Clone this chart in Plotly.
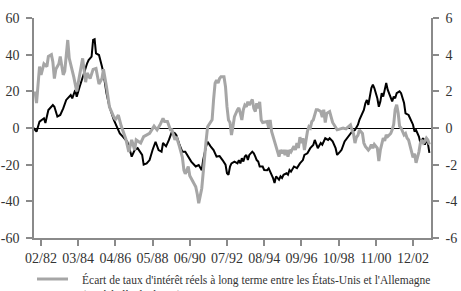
import plotly.graph_objects as go

# Black series (left scale)
black_dates = ["1981-09","1981-11","1982-01","1982-04","1982-05","1982-07","1982-10","1982-11","1983-01","1983-03",
"1983-05","1983-07","1983-10","1983-11","1984-01","1984-02","1984-04","1984-06","1984-09","1984-10",
"1984-12","1985-01","1985-02","1985-03","1985-05","1985-07","1985-08","1985-10","1985-12","1986-03",
"1986-05","1986-07","1986-09","1986-12","1987-02","1987-03","1987-05","1987-07","1987-10","1987-11",
"1988-01","1988-03","1988-05","1988-07","1988-09","1988-11","1988-12","1989-02","1989-04","1989-06",
"1989-08","1989-09","1989-11","1990-01","1990-03","1990-05","1990-07","1990-10","1990-12","1991-02",
"1991-03","1991-05","1991-06","1991-08","1991-10","1991-12","1992-02","1992-04","1992-06","1992-07",
"1992-08","1992-09","1992-10","1992-12","1993-02","1993-03","1993-04","1993-05","1993-06","1993-07",
"1993-08","1993-09","1993-10","1993-12","1994-01","1994-02","1994-03","1994-04","1994-05","1994-07",
"1994-08","1994-10","1994-11","1994-12","1995-01","1995-02","1995-03","1995-04","1995-06","1995-07",
"1995-08","1995-09","1995-11","1995-12","1996-01","1996-02","1996-04","1996-06","1996-08","1996-10",
"1996-11","1997-01","1997-03","1997-05","1997-06","1997-08","1997-10","1997-11","1998-01","1998-03",
"1998-04","1998-06","1998-08","1998-09","1998-11","1998-12","1999-02","1999-05","1999-07","1999-09",
"1999-10","1999-11","1999-12","2000-03","2000-04","2000-05","2000-06","2000-07","2000-08","2000-09",
"2000-10","2000-12","2001-01","2001-02","2001-03","2001-04","2001-05","2001-06","2001-07","2001-09",
"2001-10","2001-11","2001-12","2002-01","2002-03","2002-04","2002-06","2002-07","2002-09","2002-10",
"2002-11","2002-12","2003-01","2003-02","2003-04","2003-05","2003-06","2003-07","2003-08","2003-09",
"2003-10","2003-11"]
black_values = [0,-2,3.5,5.3,2.7,9.8,12.5,11.6,6.2,7.1,
10.7,15.3,18,16.2,20.7,17,22.5,28,35.3,37,
38.9,48,48.4,40.7,39.8,33.5,29.8,19,11.6,4.4,
0.7,-2.9,-4.7,-7.5,-13,-15.6,-12,-11,-14.7,-20,
-19.3,-17.5,-12,-7.5,-12,-12.9,-8.2,-10,-6.5,-2,
-2.9,-4,-9,-13,-13,-15.6,-18.3,-21,-20.2,-23,
-17.5,-10,-7.5,-10,-12,-15.6,-15.3,-17.5,-20,-24.7,
-25.5,-21,-19.3,-18.3,-19.3,-17.5,-19.3,-16.5,-18.3,-15.6,
-14.7,-17.5,-14.7,-12.9,-13.8,-15.6,-17.5,-18.3,-21,-21,
-22.9,-23,-22,-23.8,-25.5,-27.5,-30,-26.4,-28.2,-26.4,
-27.3,-25.5,-24.7,-25.5,-22.9,-23.8,-21,-21.9,-19.3,-17.5,
-14.7,-13.8,-11,-9.3,-6.5,-11,-8.2,-9.1,-5.6,-6.5,
-5.6,-7.3,-11,-14.7,-12.9,-11.9,-7.3,-3.8,-2,-1.1,
0,1.8,4.4,9.8,13.5,15.3,12.6,17.1,21.8,23.6,
21.8,16.2,11.6,14.4,19,17.1,21.8,24.5,20.9,17.1,
14.5,17.1,16.2,19,20,19,13.6,8,7.1,5.3,
3.5,1.8,-1.9,-1.1,-4.7,-8.2,-6.5,-5.6,-9.1,-6.5,
-8.2,-13.6]

# Grey series (right scale, %)
grey_dates = ["1981-10","1981-11","1982-01","1982-02","1982-04","1982-06","1982-07","1982-09","1982-10","1982-11",
"1982-12","1983-02","1983-03","1983-05","1983-06","1983-08","1983-09","1983-11","1983-12","1984-02",
"1984-04","1984-06","1984-08","1984-09","1984-11","1985-01","1985-03","1985-05","1985-07","1985-08",
"1985-10","1985-12","1986-03","1986-04","1986-06","1986-08","1986-11","1987-01","1987-03","1987-05",
"1987-06","1987-09","1987-11","1988-01","1988-03","1988-06","1988-08","1988-10","1988-12","1989-01",
"1989-03","1989-05","1989-06","1989-08","1989-09","1989-11","1990-01","1990-02","1990-03","1990-05",
"1990-06","1990-08","1990-10","1990-11","1990-12","1991-02","1991-03","1991-04","1991-05","1991-06",
"1991-08","1991-09","1991-10","1991-11","1991-12","1992-01","1992-02","1992-03","1992-05","1992-06",
"1992-07","1992-08","1992-09","1992-10","1992-11","1992-12","1993-02","1993-03","1993-04","1993-05",
"1993-06","1993-07","1993-08","1993-09","1993-10","1993-12","1994-01","1994-02","1994-03","1994-04",
"1994-05","1994-06","1994-07","1994-10","1994-11","1994-12","1995-01","1995-02","1995-03","1995-04",
"1995-06","1995-07","1995-08","1995-09","1995-10","1995-11","1995-12","1996-01","1996-02","1996-04",
"1996-05","1996-06","1996-07","1996-08","1996-09","1996-10","1996-11","1997-01","1997-02","1997-03",
"1997-04","1997-05","1997-06","1997-07","1997-08","1997-10","1997-11","1997-12","1998-01","1998-02",
"1998-04","1998-05","1998-06","1998-09","1998-11","1999-01","1999-03","1999-06","1999-07","1999-08",
"1999-09","1999-10","1999-11","1999-12","2000-02","2000-03","2000-04","2000-05","2000-06","2000-07",
"2000-08","2000-09","2000-10","2000-12","2001-01","2001-02","2001-03","2001-04","2001-05","2001-06",
"2001-07","2001-09","2001-10","2001-11","2001-12","2002-01","2002-02","2002-03","2002-04","2002-06",
"2002-07","2002-08","2002-09","2002-10","2002-11","2002-12","2003-01","2003-02","2003-04","2003-05",
"2003-06","2003-07","2003-08","2003-09","2003-10","2003-11"]
grey_values = [2.0,1.36,3.35,2.9,3.5,3.35,3.9,4.0,3.6,2.7,
3.2,3.5,3.9,2.9,3.1,4.8,3.8,3.2,2.8,2.0,
3.0,3.8,2.5,3.0,2.7,3.2,3.25,2.4,2.7,3.2,
2.25,1.16,0.6,0.44,0.7,0.09,-0.6,-1.3,-0.65,-1.2,
-0.65,-0.82,-0.47,-0.38,-0.29,0.1,-0.1,0.17,0.53,0.35,
0.35,-0.1,-0.1,-0.65,-0.47,-1.0,-1.6,-2.3,-2.5,-2.1,
-2.6,-2.9,-3.2,-3.6,-4.1,-3.3,-2.5,-1.2,-0.7,0.07,
0.35,0.45,1.55,2.45,2.6,2.45,2.7,2.8,2.8,2.25,
1.16,0.44,0.3,-0.38,0.09,0.62,1.0,1.1,0.8,0.44,
1.0,1.25,1.16,1.43,1.25,1.56,1.07,0.9,1.35,1.07,
1.43,0.44,0.3,0.35,0.0,0.44,-0.2,-0.47,-0.82,-1.1,
-1.56,-1.2,-1.38,-1.2,-1.47,-1.2,-1.56,-1.2,-1.3,-1.0,
-1.2,-0.82,-1.1,-0.5,-0.82,-0.55,-1.2,-0.2,0.07,0.0,
0.35,0.44,0.8,1.0,1.0,0.9,0.6,1.0,0.3,0.8,
0.9,0.6,0.3,-0.1,-0.05,0.0,-0.05,0.17,-0.1,-0.3,
-0.82,-0.5,-0.4,-0.1,-0.3,-0.82,-1.0,-1.1,-1.2,-1.1,
-0.9,-1.1,-0.9,-1.1,-1.8,-1.2,-0.82,-0.55,-0.7,-0.38,
-0.47,-0.3,-0.1,0.2,1.0,1.27,0.8,0.1,0.0,-0.38,
-0.3,-0.55,-0.65,-1.0,-1.2,-1.6,-1.4,-1.9,-1.3,-0.82,
-0.65,-0.82,-0.73,-0.55,-0.65,-0.9]

x_tickvals = ["1982-02-01","1984-03-01","1986-04-01","1988-05-01","1990-06-01","1992-07-01",
              "1994-08-01","1996-09-01","1998-10-01","2000-11-01","2002-12-01"]
x_ticktext = ["02/82","03/84","04/86","05/88","06/90","07/92","08/94","09/96","10/98","11/00","12/02"]
y_left_ticks = [-60, -40, -20, 0, 20, 40, 60]
y_left_text = ["-60", "-40", "-20", "0", "20", "40", "60"]
y_right_ticks = [-6, -4, -2, 0, 2, 4, 6]
y_right_text = ["-6", "-4", "-2", "0", "2", "4", "6"]

legend_label = "Écart de taux d'intérêt réels à long terme entre les États-Unis et l'Allemagne<br>(%, échelle de droite)"

GREY = "#a6a6a6"
AXIS = "#8a8a8a"
TXT = "#333333"
FONT = "Liberation Serif"
TICKSIZE = 14

fig = go.Figure()
fig.add_trace(go.Scatter(x=black_dates, y=black_values, mode="lines",
                         line=dict(color="#000000", width=2), yaxis="y", showlegend=False))
fig.add_trace(go.Scatter(x=grey_dates, y=grey_values, mode="lines",
                         line=dict(color=GREY, width=3), yaxis="y2", showlegend=False))

fig.update_layout(
    width=461, height=291,
    margin=dict(l=34, r=30, t=18, b=53, autoexpand=False),
    paper_bgcolor="white", plot_bgcolor="white",
    font=dict(family=FONT, size=13, color=TXT),
    xaxis=dict(range=["1981-09-10", "2003-12-04"], tickvals=x_tickvals, ticktext=x_ticktext,
               tickangle=0, automargin=False,
               showgrid=False, zeroline=False, showline=True, linecolor=AXIS, linewidth=1.5,
               ticks="outside", ticklen=6, tickcolor=AXIS, tickwidth=1.5,
               tickfont=dict(family=FONT, size=TICKSIZE, color=TXT)),
    yaxis=dict(range=[-60, 60], tickvals=y_left_ticks, ticktext=y_left_text, automargin=False,
               showgrid=False, zeroline=True, zerolinecolor="#000000", zerolinewidth=1,
               showline=True, linecolor=AXIS, linewidth=1.5,
               ticks="outside", ticklen=6, tickcolor=AXIS, tickwidth=1.5,
               ticklabelstandoff=4,
               tickfont=dict(family=FONT, size=TICKSIZE, color=TXT)),
    yaxis2=dict(range=[-6, 6], tickvals=y_right_ticks, ticktext=y_right_text, automargin=False,
                overlaying="y", side="right", showgrid=False, zeroline=False,
                showline=True, linecolor=AXIS, linewidth=1.5,
                ticks="outside", ticklen=6, tickcolor=AXIS, tickwidth=1.5,
                ticklabelstandoff=4,
                tickfont=dict(family=FONT, size=TICKSIZE, color=TXT)),
    showlegend=False,
)

# Legend (drawn manually so it can sit partially below the visible area like the original)
fig.add_shape(type="line", xref="paper", yref="paper",
              x0=(37 - 34) / 397, x1=(68 - 34) / 397,
              y0=(238 - 279) / 220, y1=(238 - 279) / 220,
              line=dict(color=GREY, width=3))
fig.add_annotation(xref="paper", yref="paper", x=(80 - 34) / 397, y=(238 - 271) / 220,
                   xanchor="left", yanchor="top", align="left", showarrow=False,
                   text=legend_label, font=dict(family=FONT, size=11.5, color=TXT))

fig.write_html("out.html")
